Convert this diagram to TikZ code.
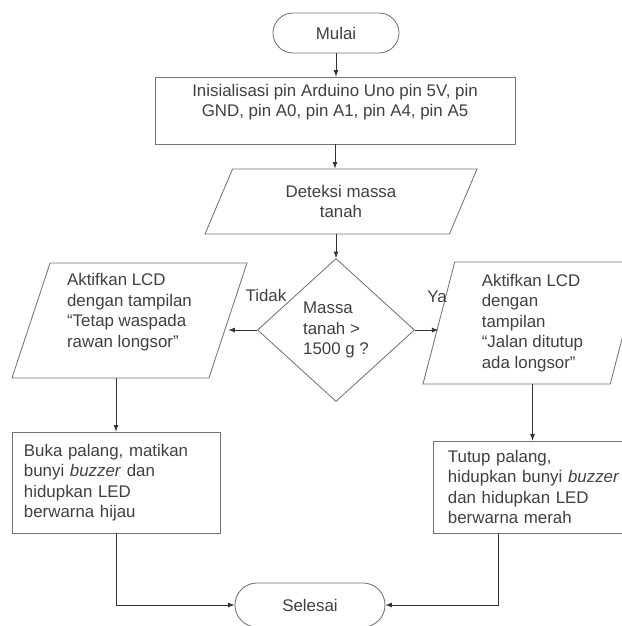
\documentclass[tikz,border=0pt]{standalone}
\usepackage{fontspec}
\setmainfont{Liberation Sans}
\usetikzlibrary{shapes.geometric}

\begin{document}
    \begin{tikzpicture}[x=0.025cm, y=-0.025cm, fleche/.style={->, >=latex, draw=black!80, line width=0.6pt}]
        \tikzset{teks/.style={text=black!75, font=\fontsize{12}{14.6}\selectfont}};
        \tikzset{bloc/.style={teks, draw=black!55, line width=0.6pt, inner sep=0pt}};
        \tikzset{proses/.style={bloc, rectangle}};
        \tikzset{terminal/.style={bloc, rectangle, rounded corners=0.5cm}};
        \tikzset{data/.style={bloc, trapezium, trapezium stretches body}};
        \useasboundingbox (0, 0) rectangle (621, 626);

        \node[terminal, minimum width=3.15cm, minimum height=1cm] (mulai) at (336, 33) {Mulai};
        \node[proses, minimum width=9cm, minimum height=1.675cm, align=center] (init) at (335, 110.5) {Inisialisasi pin Arduino Uno pin 5V, pin\\GND, pin A0, pin A1, pin A4, pin A5\\\mbox{}};
        \node[data, trapezium left angle=50, trapezium right angle=130, minimum width=6.8cm, minimum height=1.625cm, align=center] (deteksi) at (341, 201.5) {Deteksi massa\\tanah};
        \node[bloc, diamond, minimum width=3.925cm, minimum height=3.575cm, align=left] (cek) at (336, 330) {Massa\\tanah >\\1500 g ?};

        \node[data, trapezium left angle=68, trapezium right angle=112, minimum width=5.875cm, minimum height=2.875cm, align=left] (lcdkiri) at (129.5, 320.5) {Aktifkan LCD\\dengan tampilan\\“Tetap waspada\\rawan longsor”\\\mbox{}};
        \node[data, trapezium left angle=72, trapezium right angle=108, minimum width=5.475cm, minimum height=3.05cm, align=left] (lcdkanan) at (532.5, 323) {Aktifkan LCD\\dengan\\tampilan\\“Jalan ditutup\\ada longsor”};
        \node[teks] (tidak) at (266, 295) {Tidak};
        \node[teks] (ya) at (437, 297) {Ya};

        \node[proses, minimum width=5.2cm, minimum height=2.525cm, text width=4.6cm, align=left] (bukapalang) at (116, 482.5) {Buka palang, matikan\\bunyi \textit{buzzer} dan\\hidupkan LED\\berwarna hijau};
        \node[proses, minimum width=5.175cm, minimum height=2.3cm, text width=4.425cm, align=left] (tutuppalang) at (536.5, 487) {Tutup palang,\\hidupkan bunyi \textit{buzzer}\\dan hidupkan LED\\berwarna merah};
        \node[terminal, minimum width=3.75cm, minimum height=1.1cm, rounded corners=0.55cm] (selesai) at (310, 605) {Selesai};

        \draw[fleche] (mulai.south) -- (mulai.south |- init.north);
        \draw[fleche] (init.south) -- (init.south |- deteksi.north);
        \draw[fleche] (cek.north |- deteksi.south) -- (cek.north);
        \draw[fleche] (cek.west) -- (cek.west -| lcdkiri.east);
        \draw[fleche] (cek.east) -- (cek.east -| lcdkanan.west);
        \draw[fleche] (lcdkiri.south -| bukapalang.north) -- (bukapalang.north);
        \draw[fleche] (lcdkanan.south) -- (lcdkanan.south |- tutuppalang.north);
        \draw[fleche] (bukapalang.south) |- (selesai.west);
        \draw[fleche] ([xshift=-0.95cm]tutuppalang.south) |- (selesai.east);
    \end{tikzpicture}
\end{document}
